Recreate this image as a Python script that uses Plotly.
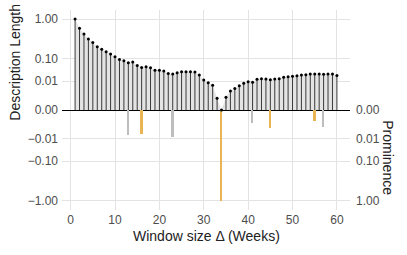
import plotly.graph_objects as go
import numpy as np

windows = list(range(1, 61))
description_length = [
    1.0, 0.65, 0.486, 0.37, 0.306, 0.234, 0.198, 0.169, 0.143, 0.118,
    0.096, 0.086, 0.073, 0.077, 0.058, 0.048, 0.051, 0.047, 0.037, 0.037,
    0.034, 0.026, 0.0245, 0.028, 0.031, 0.031, 0.031, 0.0305, 0.022, 0.0118,
    0.0081, 0.0054, 0.00027, 0.0, 0.00038, 0.0019, 0.0032, 0.0051, 0.0074, 0.0094,
    0.0086, 0.0129, 0.014, 0.0135, 0.0123, 0.0135, 0.014, 0.0166, 0.018, 0.0188,
    0.0202, 0.022, 0.0227, 0.0245, 0.0245, 0.0245, 0.0236, 0.0245, 0.0245, 0.021,
]
prom_windows = [13, 16, 23, 34, 41, 45, 55, 57]
prominence = [0.0057, 0.0046, 0.0074, 1.0, 0.00046, 0.0015, 0.00024, 0.0011]
prom_is_peak = [False, True, False, True, False, True, True, False]

left_tick_values = [1.0, 0.1, 0.01, 0.0, -0.01, -0.1, -1.0]
left_tick_labels = ["1.00", "0.10", "0.01", "0.00", "−0.01", "−0.10", "−1.00"]
right_tick_values = [0.0, 0.01, 0.1, 1.0]
right_tick_labels = ["0.00", "0.01", "0.10", "1.00"]
x_ticks = [0, 10, 20, 30, 40, 50, 60]


def tr(v):
    v = np.asarray(v, dtype=float)
    return np.sign(v) * np.abs(v) ** 0.25


dl_t = tr(description_length)
pr_t = -tr(prominence)

ORANGE = "#E8B552"
GRAY_BAR = "#BDBDBD"
FONT = "Liberation Sans, Arial, sans-serif"

fig = go.Figure()

fig.add_trace(go.Scatter(x=windows, y=dl_t, mode="lines", line=dict(width=0),
                         fill="tozeroy", fillcolor="#E4E4E4", hoverinfo="skip",
                         showlegend=False))

sx, sy = [], []
for w, v in zip(windows, dl_t):
    sx += [w, w, None]
    sy += [0, v, None]
fig.add_trace(go.Scatter(x=sx, y=sy, mode="lines", line=dict(color="#3a3a3a", width=1),
                         showlegend=False, hoverinfo="skip"))
fig.add_trace(go.Scatter(x=windows, y=dl_t, mode="markers",
                         marker=dict(color="black", size=3), showlegend=False))

fig.add_trace(go.Bar(x=prom_windows, y=pr_t, width=0.4,
                     marker=dict(color=[ORANGE if p else GRAY_BAR for p in prom_is_peak],
                                 line=dict(width=0)),
                     showlegend=False))

fig.add_trace(go.Scatter(x=[None], y=[None], yaxis="y2", showlegend=False))

yr = [-1.1, 1.1]
fig.update_layout(
    width=407, height=255,
    margin=dict(l=62, r=57, t=10, b=45, autoexpand=False),
    plot_bgcolor="white", paper_bgcolor="white",
    font=dict(family=FONT, size=12, color="#4d4d4d"),
    bargap=0,
    xaxis=dict(range=[-1.95, 62.95], tickvals=x_ticks, showgrid=True, gridcolor="#E3E3E3",
               gridwidth=1, zeroline=False, ticks="", automargin=False,
               tickfont=dict(size=12, color="#4d4d4d"), ticklabelstandoff=1),
    yaxis=dict(range=yr, tickvals=list(tr(left_tick_values)), ticktext=left_tick_labels,
               showgrid=True, gridcolor="#E3E3E3", gridwidth=1, zeroline=True,
               zerolinecolor="black", zerolinewidth=1.2, ticks="", automargin=False,
               tickfont=dict(size=12, color="#4d4d4d"), ticklabelstandoff=3),
    yaxis2=dict(range=yr, overlaying="y", side="right",
                tickvals=list(-tr(right_tick_values)), ticktext=right_tick_labels,
                showgrid=False, zeroline=False, ticks="", automargin=False,
                tickfont=dict(size=12, color="#4d4d4d"), ticklabelstandoff=5),
)

fig.add_annotation(text="Window size Δ (Weeks)", xref="paper", yref="paper", x=0.5, y=0,
                   yshift=-26, showarrow=False, font=dict(size=14, color="#222"),
                   xanchor="center", yanchor="middle")
fig.add_annotation(text="Description Length", xref="paper", yref="y", x=0, y=0.52,
                   xshift=-47, textangle=-90, showarrow=False,
                   font=dict(size=14, color="#222"), xanchor="center", yanchor="middle")
fig.add_annotation(text="Prominence", xref="paper", yref="y", x=1, y=-0.52,
                   xshift=38, textangle=90, showarrow=False,
                   font=dict(size=14, color="#222"), xanchor="center", yanchor="middle")

fig.write_html("out.html", config={"displayModeBar": False},
               post_script="document.body.style.margin='0px';document.body.style.overflow='hidden';")
